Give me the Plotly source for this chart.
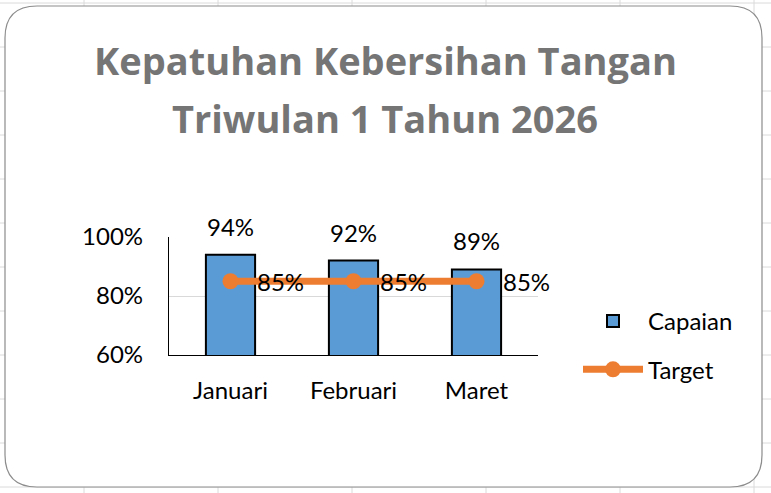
import plotly.graph_objects as go

# data
bulan = ["Januari", "Februari", "Maret"]
capaian = [0.94, 0.92, 0.89]
target = [0.85, 0.85, 0.85]
y_ticks = [0.6, 0.8, 1.0]
judul = ["Kepatuhan Kebersihan Tangan", "Triwulan 1 Tahun 2026"]

W, H = 771, 493
L, R, T, B = 169, 538, 237, 355  # plot area in pixels


def px(x):
    return (x - L) / (R - L)


def py(y):
    return (B - y) / (B - T)


fig = go.Figure()

fig.add_trace(go.Bar(
    x=bulan, y=capaian, name="Capaian",
    marker=dict(color="#5B9BD5", line=dict(color="black", width=2)),
    legendgroup="a",
))
fig.add_trace(go.Scatter(
    x=bulan, y=target, name="Target", mode="lines+markers",
    line=dict(color="#ED7D31", width=7),
    marker=dict(color="#ED7D31", size=16),
    cliponaxis=False, legendgroup="b",
))

# labels above the bars
for b, v in zip(bulan, capaian):
    fig.add_annotation(x=b, y=v, text=f"{v:.0%}", showarrow=False,
                       yanchor="bottom", yshift=12,
                       font=dict(size=24, color="black"))
# labels right of the target points
for b, v in zip(bulan, target):
    fig.add_annotation(x=b, y=v, text=f"{v:.0%}", showarrow=False,
                       xanchor="left", yanchor="middle", xshift=24,
                       font=dict(size=24, color="black"))

# title, two lines
for i, line in enumerate(judul):
    fig.add_annotation(xref="paper", yref="paper", x=px(385), y=py(60 + 58 * i),
                       text=f"<b>{line}</b>", showarrow=False,
                       xanchor="center", yanchor="middle",
                       font=dict(family="Open Sans", size=38, color="#757575"))

# spreadsheet grid behind the chart
shapes = []
for gx in [84, 218, 352, 486, 620, 754]:
    shapes.append(dict(type="line", xref="paper", yref="paper", layer="below",
                       x0=px(gx), x1=px(gx), y0=py(0), y1=py(H),
                       line=dict(color="#DADADA", width=1)))
for gy in [3, 47, 91, 135, 179, 223, 267, 311, 355, 399, 443, 487]:
    shapes.append(dict(type="line", xref="paper", yref="paper", layer="below",
                       x0=px(0), x1=px(W), y0=py(gy), y1=py(gy),
                       line=dict(color="#DADADA", width=1)))

# rounded chart area
x0, y0, x1, y1, r = 5, 6, 762, 487, 32
path = (f"M {px(x0 + r)},{py(y0)} L {px(x1 - r)},{py(y0)} "
        f"Q {px(x1)},{py(y0)} {px(x1)},{py(y0 + r)} "
        f"L {px(x1)},{py(y1 - r)} Q {px(x1)},{py(y1)} {px(x1 - r)},{py(y1)} "
        f"L {px(x0 + r)},{py(y1)} Q {px(x0)},{py(y1)} {px(x0)},{py(y1 - r)} "
        f"L {px(x0)},{py(y0 + r)} Q {px(x0)},{py(y0)} {px(x0 + r)},{py(y0)} Z")
shapes.append(dict(type="path", xref="paper", yref="paper", layer="below",
                   path=path, fillcolor="white",
                   line=dict(color="#8C8C8C", width=1.2)))

fig.update_layout(
    width=W, height=H,
    margin=dict(l=L, r=W - R, t=T, b=H - B),
    paper_bgcolor="white", plot_bgcolor="rgba(0,0,0,0)",
    font=dict(family="Lato", size=24, color="black"),
    bargap=0.6,
    shapes=shapes,
    showlegend=True,
    legend=dict(x=px(578), y=py(299), xanchor="left", yanchor="top",
                font=dict(size=24), tracegroupgap=14, traceorder="grouped",
                itemwidth=60, bgcolor="rgba(0,0,0,0)"),
)
fig.update_xaxes(range=[-0.5, len(bulan) - 0.5],
                 showline=True, linecolor="black", linewidth=1.2,
                 ticks="", ticklabelstandoff=14)
fig.update_yaxes(range=[0.6, 1.0], tickvals=y_ticks, tickformat=".0%",
                 showline=True, linecolor="black", linewidth=1.2,
                 showgrid=True, gridcolor="#D9D9D9", zeroline=False,
                 ticks="", ticklabelstandoff=20)

fig.write_html("out.html", config={"displayModeBar": False},
               post_script="document.body.style.margin='0';")
